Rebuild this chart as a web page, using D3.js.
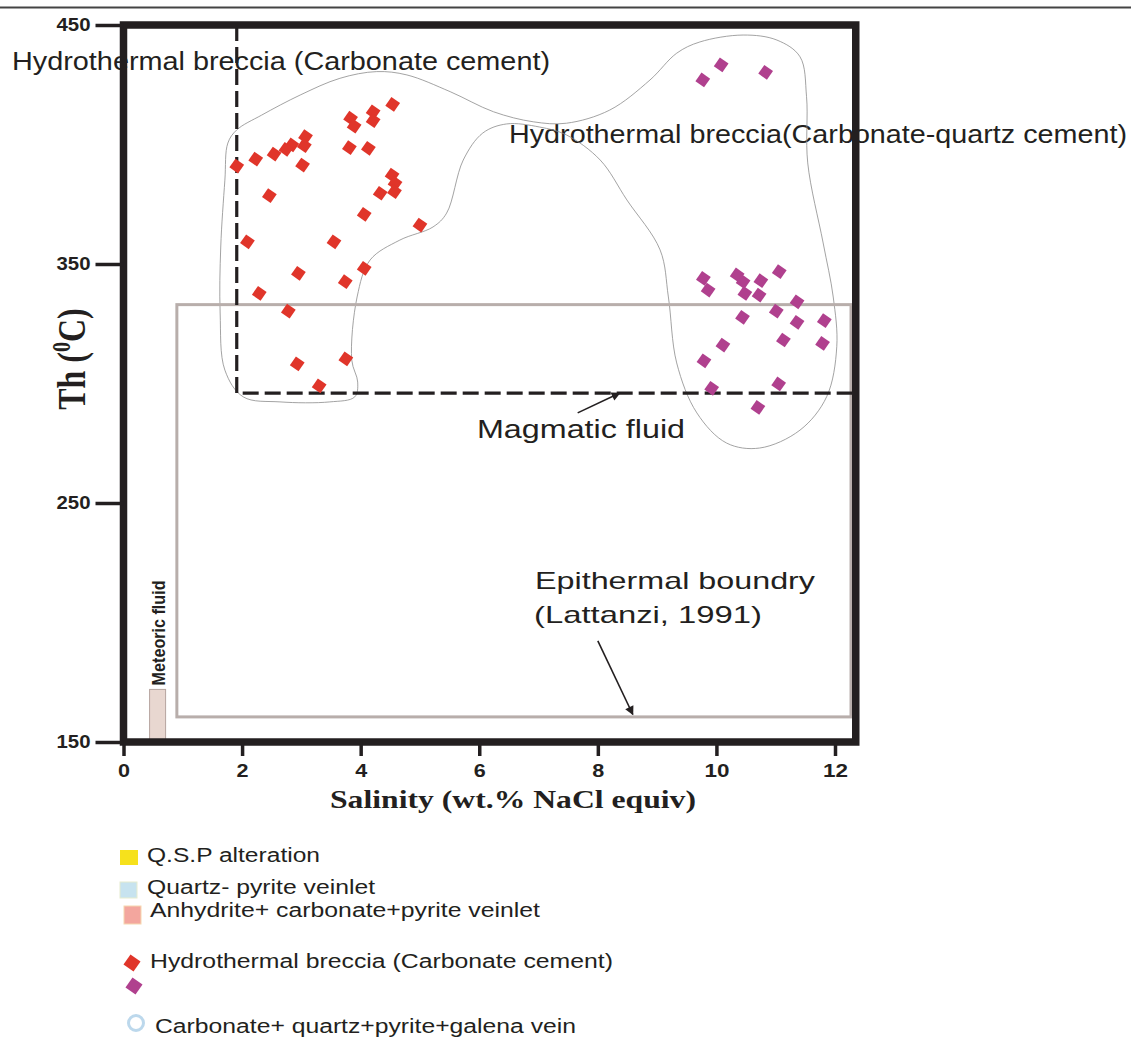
<!DOCTYPE html>
<html>
<head>
<meta charset="utf-8" />
<title>Th vs Salinity</title>
<style>
  body { margin: 0; background: #fff; }
  text { fill: #231f20; }
</style>
</head>
<body>
<script src="https://d3js.org/d3.v7.min.js"></script>
<script>

// ---- data ----
var salinityTicks = [0, 2, 4, 6, 8, 10, 12];
var thTicks = [150, 250, 350, 450];

// Hydrothermal breccia (Carbonate cement)
var carbSal = [4.54, 4.21, 4.21, 3.83, 3.89, 3.07, 3.05, 2.84, 2.74, 2.54, 2.23, 1.91, 3.02, 3.81, 4.13, 4.53,
               4.58, 4.57, 4.33, 4.06, 5.00, 2.46, 2.09, 3.55, 2.95, 4.06, 3.74, 2.29, 2.78, 2.93, 3.75, 3.30];
var carbTh  = [416.8, 413.7, 410.0, 411.0, 407.7, 403.3, 399.5, 399.8, 398.0, 396.0, 393.9, 391.0, 391.4, 398.7, 398.4, 387.2,
               383.8, 380.3, 379.6, 370.8, 366.3, 378.6, 359.3, 359.3, 346.1, 348.2, 342.6, 337.7, 330.3, 308.2, 310.3, 299.0];

// Hydrothermal breccia (Carbonate-quartz cement)
var cqSal = [9.77, 10.08, 10.83, 9.78, 9.86, 10.35, 10.45, 10.48, 10.75, 10.72, 11.06, 11.36,
             11.01, 11.36, 11.82, 10.44, 10.11, 9.79, 9.92, 11.13, 11.79, 11.05, 10.70];
var cqTh  = [427.0, 433.3, 430.2, 344.0, 339.1, 345.4, 342.6, 337.7, 343.0, 337.0, 346.8, 334.2,
             330.3, 325.6, 326.3, 327.7, 316.1, 309.5, 298.0, 318.2, 316.8, 299.8, 290.0];

// envelope round both breccia groups
var envSal = [1.91, 2.33, 2.98, 3.65, 4.27, 4.78, 5.51, 6.24, 6.91, 7.47, 8.20, 8.88, 9.33, 9.72, 10.45, 11.02,
              11.41, 11.52, 11.54, 11.80, 11.97, 12.03, 11.86, 11.41, 10.73, 10.17, 9.67, 9.33, 9.19, 9.05,
              8.49, 8.04, 7.47, 7.02, 6.46, 6.06, 5.73, 5.45, 5.22, 4.66, 4.16, 3.94, 3.85, 3.95, 3.90,
              3.48, 2.64, 2.02, 1.71, 1.63, 1.64, 1.71, 1.76];
var envTh  = [406.1, 412.3, 420.7, 427.7, 430.5, 429.1, 422.1, 413.7, 409.5, 408.9, 414.4, 427.0, 438.2, 442.9, 445.8, 443.7,
              436.7, 420.0, 392.3, 358.8, 336.2, 315.4, 294.5, 280.5, 273.0, 275.1, 287.7, 308.6, 336.2, 355.9,
              376.8, 393.5, 404.0, 407.3, 408.6, 404.8, 393.5, 371.3, 365.5, 360.0, 351.7, 336.2, 309.8, 300.6, 294.4,
              292.3, 292.3, 294.4, 305.6, 329.5, 357.1, 385.1, 400.6];

// field boxes: [salinity min, salinity max, Th min, Th max]
var magmaticBox   = [1.91, 12.35, 296, 450];
var epithermalBox = [0.9, 12.27, 160.5, 333];
var meteoricBox   = [0.44, 0.71, 150, 172];

var legendLabels = ["Q.S.P alteration", "Quartz- pyrite veinlet", "Anhydrite+ carbonate+pyrite veinlet",
                    "Hydrothermal breccia (Carbonate cement)", "Carbonate+ quartz+pyrite+galena vein"];

// ---- setup ----
var width = 1131, height = 1039;
var ink = "#231f20";
var red = "#e0352a", purple = "#b0408e";
var sans = "'Liberation Sans', Arial, sans-serif";
var serif = "'Liberation Serif', 'Times New Roman', serif";

var svg = d3.select("body").append("svg")
    .attr("width", width)
    .attr("height", height);

var x = d3.scaleLinear().domain([0, 12]).range([123.5, 835]);
var y = d3.scaleLinear().domain([150, 450]).range([742, 25]);

var defs = svg.append("defs");
defs.append("marker")
    .attr("id", "head")
    .attr("viewBox", "0 0 10 10")
    .attr("refX", 9).attr("refY", 5)
    .attr("markerWidth", 10).attr("markerHeight", 9)
    .attr("markerUnits", "userSpaceOnUse")
    .attr("orient", "auto")
  .append("path")
    .attr("d", "M0,0 L10,5 L0,10 z")
    .attr("fill", ink);

// thin rule at the very top
svg.append("line")
    .attr("x1", 0).attr("x2", width)
    .attr("y1", 7.5).attr("y2", 7.5)
    .style("stroke", "#444").style("stroke-width", 2);

// ---- annotation text (under the frame lines) ----
function label(txt, px, py, size, len) {
  return svg.append("text")
      .attr("x", px).attr("y", py)
      .style("font-family", sans)
      .style("font-size", size + "px")
      .attr("textLength", len)
      .attr("lengthAdjust", "spacingAndGlyphs")
      .text(txt);
}

label("Hydrothermal breccia (Carbonate cement)", 12, 70, 25, 538);
label("Hydrothermal breccia(Carbonate-quartz cement)", 509, 143, 25, 618);
label("Magmatic fluid", 477, 438, 26, 208);
label("Epithermal boundry", 535, 589, 24, 280);
label("(Lattanzi, 1991)", 534, 623, 24, 228);

// ---- envelope ----
var envPts = envSal.map(function(s, i) { return [x(s), y(envTh[i])]; });
svg.append("path")
    .attr("d", d3.line().curve(d3.curveCatmullRomClosed.alpha(0.5))(envPts))
    .attr("fill", "none")
    .style("stroke", "#8c8c8c")
    .style("stroke-width", 0.8);

// ---- epithermal box ----
svg.append("rect")
    .attr("x", x(epithermalBox[0]))
    .attr("y", y(epithermalBox[3]))
    .attr("width", x(epithermalBox[1]) - x(epithermalBox[0]))
    .attr("height", y(epithermalBox[2]) - y(epithermalBox[3]))
    .attr("fill", "none")
    .style("stroke", "#b8aeab")
    .style("stroke-width", 3);

// ---- meteoric fluid ----
svg.append("rect")
    .attr("x", x(meteoricBox[0]))
    .attr("y", y(meteoricBox[3]))
    .attr("width", x(meteoricBox[1]) - x(meteoricBox[0]))
    .attr("height", y(meteoricBox[2]) - y(meteoricBox[3]))
    .attr("fill", "#e8d7d0")
    .style("stroke", "#b5a49e")
    .style("stroke-width", 1);

svg.append("text")
    .attr("transform", "translate(" + (x(meteoricBox[1]) - 1) + "," + (y(meteoricBox[3]) - 4) + ") scale(1.2,1) rotate(-90)")
    .style("font-family", sans)
    .style("font-size", "15px")
    .style("font-weight", "bold")
    .attr("textLength", 105)
    .attr("lengthAdjust", "spacingAndGlyphs")
    .text("Meteoric fluid");

// ---- magmatic field (dashed) ----
svg.append("path")
    .attr("d", "M" + x(magmaticBox[0]) + "," + y(magmaticBox[3]) +
               "V" + y(magmaticBox[2]) + "H" + x(magmaticBox[1]))
    .attr("fill", "none")
    .style("stroke", ink)
    .style("stroke-width", 3.2)
    .style("stroke-dasharray", "16,6");

// arrows
svg.append("line")
    .attr("x1", x(7.66)).attr("y1", y(287.7))
    .attr("x2", x(8.37)).attr("y2", y(296))
    .style("stroke", ink).style("stroke-width", 1.6)
    .attr("marker-end", "url(#head)");

svg.append("line")
    .attr("x1", x(8.0)).attr("y1", y(192.3))
    .attr("x2", x(8.59)).attr("y2", y(161.5))
    .style("stroke", ink).style("stroke-width", 1.6)
    .attr("marker-end", "url(#head)");

// ---- frame ----
svg.append("rect")
    .attr("x", x(0))
    .attr("y", y(450))
    .attr("width", x(12.35) - x(0))
    .attr("height", y(150) - y(450))
    .attr("fill", "none")
    .style("stroke", ink)
    .style("stroke-width", 7.5);

// ---- axes ----
var xAxis = d3.axisBottom(x).tickValues(salinityTicks).tickSize(14).tickPadding(8);
var yAxis = d3.axisLeft(y).tickValues(thTicks).tickSize(28).tickPadding(5);

var gx = svg.append("g")
    .attr("transform", "translate(0," + y(150) + ")")
    .call(xAxis);
var gy = svg.append("g")
    .attr("transform", "translate(" + x(0) + ",0)")
    .call(yAxis);

[gx, gy].forEach(function(g) {
  g.select(".domain").remove();
  g.selectAll(".tick line").style("stroke", ink).style("stroke-width", 3.5);
  g.selectAll(".tick text")
      .style("font-family", sans)
      .style("font-size", "18px")
      .style("font-weight", "bold")
      .style("fill", ink);
});
gx.selectAll(".tick text").attr("textLength", function(d) { return d >= 10 ? 25 : 12; })
    .attr("lengthAdjust", "spacingAndGlyphs");
gy.selectAll(".tick text").attr("textLength", 34).attr("lengthAdjust", "spacingAndGlyphs");

svg.append("text")
    .attr("x", 330).attr("y", 808)
    .style("font-family", serif)
    .style("font-size", "26px")
    .style("font-weight", "bold")
    .attr("textLength", 366)
    .attr("lengthAdjust", "spacingAndGlyphs")
    .text("Salinity (wt.% NaCl equiv)");

var yt = svg.append("text")
    .attr("transform", "translate(85,359) scale(1.25,1) rotate(-90)")
    .style("font-family", serif)
    .style("font-size", "32px")
    .style("font-weight", "bold")
    .attr("text-anchor", "middle");
yt.append("tspan").text("Th (");
yt.append("tspan").attr("dy", -12).style("font-size", "20px").text("0");
yt.append("tspan").attr("dy", 12).text("C)");

// ---- points ----
var diamond = d3.symbol().type(d3.symbolSquare).size(112);

function plotPoints(sal, th, color) {
  var pts = sal.map(function(s, i) { return { s: s, t: th[i] }; });
  svg.append("g").selectAll("path")
      .data(pts)
      .enter().append("path")
      .attr("d", diamond)
      .attr("transform", function(d) { return "translate(" + x(d.s) + "," + y(d.t) + ") rotate(35)"; })
      .attr("fill", color);
}
plotPoints(carbSal, carbTh, red);
plotPoints(cqSal, cqTh, purple);

// ---- legend ----
var lg = svg.append("g");
lg.append("rect").attr("x", 120).attr("y", 850).attr("width", 18).attr("height", 15).attr("fill", "#f6e11c");
lg.append("rect").attr("x", 120).attr("y", 882).attr("width", 17).attr("height", 16)
    .attr("fill", "#c7e3ef").style("stroke", "#e6eccf").style("stroke-width", 1);
lg.append("rect").attr("x", 124).attr("y", 906).attr("width", 17).attr("height", 18)
    .attr("fill", "#f3a69e").style("stroke", "#f6d8b0").style("stroke-width", 1);

var bigDiamond = d3.symbol().type(d3.symbolSquare).size(150);
lg.append("path").attr("d", bigDiamond).attr("transform", "translate(132,963) rotate(35)").attr("fill", red);
lg.append("path").attr("d", bigDiamond).attr("transform", "translate(134,986) rotate(35)").attr("fill", purple);

lg.append("circle").attr("cx", 136).attr("cy", 1023).attr("r", 7.5)
    .attr("fill", "none").style("stroke", "#bcd8ec").style("stroke-width", 3);

var legendPos = [[147, 862, 173], [147, 894, 228], [150, 917, 390], [150, 968, 463], [155, 1033, 421]];
lg.selectAll("text.leg")
    .data(legendLabels)
    .enter().append("text")
    .attr("class", "leg")
    .attr("x", function(d, i) { return legendPos[i][0]; })
    .attr("y", function(d, i) { return legendPos[i][1]; })
    .attr("textLength", function(d, i) { return legendPos[i][2]; })
    .attr("lengthAdjust", "spacingAndGlyphs")
    .style("font-family", sans)
    .style("font-size", "20px")
    .text(function(d) { return d; });

</script>
</body>
</html>
